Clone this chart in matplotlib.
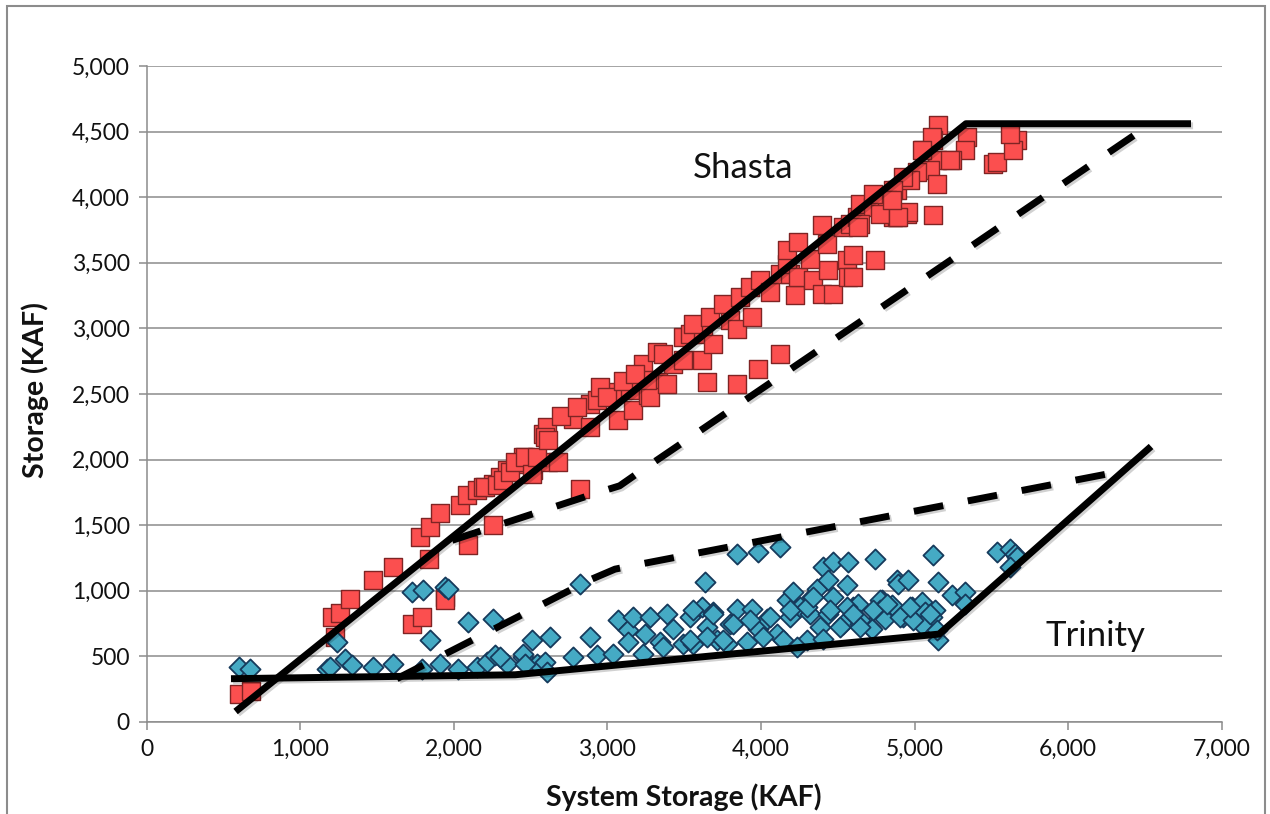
import matplotlib
matplotlib.use('Agg')
import matplotlib.pyplot as plt
import matplotlib.patheffects as pe
from matplotlib.patches import Rectangle
from matplotlib.ticker import MultipleLocator, FuncFormatter

plt.rcParams['font.family'] = ['Lato', 'DejaVu Sans']

# Shasta storage vs system storage (KAF)
shasta_x = [600, 680, 1206, 1260, 1325, 1227, 1477, 1607, 1727, 1792,
            1781, 1846, 1911, 2041, 1841, 1943, 1943, 2095, 2258,
            2085, 2150, 2193, 2258, 2301, 2345, 2410, 2453, 2518, 2583, 2605, 2616,
            2779, 2887, 2887, 2931, 2822,
            2204, 2280, 2323, 2367, 2399, 2464, 2508, 2540, 2594, 2616, 2681,
            3039, 3072, 3148, 3169, 3234, 3267, 3322, 3332,
            3278, 3256, 3387, 3430, 3495, 3614, 3365, 3495, 3538, 3625, 3690,
            3647, 3842, 3983, 4124, 3560, 3668, 3799, 3842, 3940, 3755, 3864,
            3929, 3994, 4059, 4124, 4190, 4222, 4168, 4243, 4341, 4396, 4472,
            4439, 4320, 4168, 4243, 4396, 4428, 4558, 4569, 4743, 4537, 4580,
            4624, 4645, 4732, 4775, 4840, 4862, 4884,
            5155, 5122, 5057, 5340, 5329, 5242, 5144, 5101, 5144, 5014, 4971,
            4927, 4862, 4819, 4732, 4949, 5122, 4884, 4775, 4645, 4601, 4601, 4634,
            5513, 5535, 5665, 5643, 5622, 5231, 5112, 5047, 4960, 4895, 4852,
            2700, 2800, 2950, 3000, 3100, 3180]
shasta_y = [215, 240, 800, 828, 935, 648, 1080, 1181, 750, 800,
            1410, 1486, 1590, 1652, 1245, 953, 930, 1347, 1499,
            1727, 1766, 1791, 1817, 1867, 1918, 1969, 2020, 1918, 2198, 2248, 1982,
            2312, 2248, 2427, 2452, 1779,
            1791, 1804, 1842, 1905, 1982, 2020, 1893, 2020, 2172, 2147, 1982,
            2515, 2300, 2528, 2376, 2732, 2490, 2820, 2591,
            2477, 2604, 2579, 2732, 2757, 2757, 2808, 2934, 2960, 2960, 2884,
            2591, 2579, 2693, 2808, 3036, 3087, 3062, 2998, 3087, 3189, 3239,
            3316, 3366, 3277, 3417, 3417, 3252, 3494, 3392, 3366, 3265, 3265,
            3443, 3532, 3595, 3659, 3786, 3646, 3519, 3392, 3519, 3773, 3799,
            3849, 3951, 3925, 4002, 3951, 3849, 4053,
            4548, 4434, 4358, 4459, 4358, 4281, 4281, 4205, 4104, 4193, 4129,
            4154, 4053, 3977, 4027, 3875, 3862, 3849, 3875, 3799, 3557, 3392, 3773,
            4256, 4268, 4434, 4358, 4485, 4281, 4459, 4358, 3888, 3849, 3977,
            2330, 2400, 2550, 2480, 2600, 2650]

# Trinity storage vs system storage (KAF)
trinity_x = [604, 674, 1173, 1195, 1238, 1292, 1336, 1477, 1607, 1727, 1802,
             1943, 1960, 2095, 1846, 1792, 1911, 2030, 2258, 2150, 2215, 2269,
             2345, 2453, 2508, 2540,
             2301, 2453, 2464, 2627, 2594, 2605, 2822, 2779, 2887, 2931, 3039,
             3072, 3137, 3169, 3137, 3234, 3245, 3278, 3343, 3365, 3387, 3430,
             3495, 3538, 3560, 3614, 3647, 3636, 3690, 3712, 3777, 3799, 3842,
             3842, 3940, 3907, 3983, 3983, 4037, 4124, 4103, 4168, 4190, 4211,
             4255, 4298, 4320, 4331, 4363, 4385, 4406, 4439, 4472, 4472, 4439,
             4558, 4569, 4537, 4601, 4634, 4645, 4710, 4743, 4786, 4797, 4840, 4884,
             5122, 4895, 4960, 5155, 5242, 5329, 5329, 4775, 4852, 4775, 4808,
             4927, 4982, 5047, 5068, 5133, 5112, 5047, 4721, 4645, 5155,
             5535, 5622, 5654, 5665, 5622,
             3538, 3647, 3755, 4016, 4146, 4233, 4406, 4515, 4645, 4906, 4992, 5144,
             3821, 3929, 4059, 4190, 4298, 4341, 4450, 4558, 4601, 4732, 4819,
             4971, 5101, 3560, 3690]
trinity_y = [419, 407, 407, 419, 610, 483, 432, 419, 445, 991, 1004,
             1029, 1010, 762, 623, 407, 445, 407, 788, 419, 457, 508,
             445, 495, 623, 445,
             495, 521, 445, 648, 457, 381, 1055, 495, 648, 508, 521,
             775, 699, 800, 610, 521, 674, 800, 610, 572, 826, 712,
             597, 800, 597, 877, 724, 1067, 838, 623, 597, 750, 864,
             1283, 864, 610, 1296, 712, 788, 1334, 674, 928, 800, 991,
             877, 623, 826, 953, 1017, 724, 1181, 1080, 1219, 953, 826,
             1042, 1219, 750, 877, 902, 750, 724, 1245, 928, 838, 877, 1080,
             1270, 1055, 1080, 1067, 966, 991, 902, 928, 890, 852, 788,
             800, 877, 915, 838, 852, 800, 737, 712, 775, 623,
             1296, 1322, 1283, 1257, 1181,
             623, 648, 623, 648, 623, 572, 636, 724, 724, 800, 775, 699,
             750, 775, 800, 852, 877, 953, 852, 877, 826, 852, 902,
             877, 826, 852, 826]

# rule curves
shasta_max_x = [580, 5335, 6800]
shasta_max_y = [80, 4560, 4560]
shasta_min_x = [1990, 2950, 3080, 3200, 6515]
shasta_min_y = [1385, 1753, 1800, 1898, 4540]
trinity_min_x = [550, 2400, 5160, 6540]
trinity_min_y = [330, 360, 670, 2100]
trinity_max_x = [1630, 2900, 3050, 3200, 6320]
trinity_max_y = [330, 1090, 1165, 1200, 1905]

W, H = 1270, 814
fig = plt.figure(figsize=(W / 100, H / 100), dpi=100)
ax = fig.add_axes([146.5 / W, 1 - 722 / H, (1221.7 - 146.5) / W, (722 - 66) / H])

grid_c = '#8c8c8c'
ax.scatter(shasta_x, shasta_y, marker='s', s=185, c='#fb4f4f',
           edgecolors='#7f2424', linewidths=1.0, zorder=3)
ax.scatter(trinity_x, trinity_y, marker='D', s=105, c='#45aac4',
           edgecolors='#163a5c', linewidths=1.3, zorder=4)

shadow = [pe.SimpleLineShadow(offset=(1.5, -1.5), alpha=0.18), pe.Normal()]
ax.plot(shasta_max_x, shasta_max_y, color='black', lw=5,
        solid_capstyle='butt', zorder=5, path_effects=shadow)
ax.plot(trinity_min_x, trinity_min_y, color='black', lw=5,
        solid_capstyle='butt', zorder=5, path_effects=shadow)
ax.plot(shasta_min_x, shasta_min_y, color='black', lw=5, ls=(0, (4.3, 3.6)),
        dash_capstyle='butt', zorder=5, path_effects=shadow)
ax.plot(trinity_max_x, trinity_max_y, color='black', lw=5, ls=(0, (4.3, 3.6)),
        dash_capstyle='butt', zorder=5, path_effects=shadow)

ax.text(3883, 4220, 'Shasta', fontsize=25, ha='center', va='center', color='#111111')
ax.text(6175, 653, 'Trinity', fontsize=25, ha='center', va='center', color='#111111')

ax.set_xlim(0, 7000)
ax.set_ylim(0, 5000)
ax.xaxis.set_major_locator(MultipleLocator(1000))
ax.yaxis.set_major_locator(MultipleLocator(500))
fmt = FuncFormatter(lambda v, p: '{:,.0f}'.format(v))
ax.xaxis.set_major_formatter(fmt)
ax.yaxis.set_major_formatter(fmt)
ax.tick_params(axis='both', direction='out', length=6, width=1.1, color=grid_c,
               labelsize=16.5, labelcolor='#111111', pad=6)
ax.yaxis.grid(True, color=grid_c, lw=1.1)
ax.set_axisbelow(True)
for side in ['top', 'right']:
    ax.spines[side].set_visible(False)
for side in ['left', 'bottom']:
    ax.spines[side].set_color(grid_c)
    ax.spines[side].set_linewidth(1.1)

fig.text(684 / W, 1 - 797 / H, 'System Storage (KAF)', fontsize=20.5,
         fontweight='bold', ha='center', va='center', color='#111111')
fig.text(35 / W, 1 - 390 / H, 'Storage (KAF)', fontsize=20.5, rotation=90,
         fontweight='bold', ha='center', va='center', color='#111111')

fig.patches.append(Rectangle((7 / W, -0.05), (1265 - 7) / W, (814 - 6) / H + 0.05,
                             transform=fig.transFigure, fill=False,
                             edgecolor=grid_c, lw=1.5))

fig.savefig('out.png', dpi=100)
